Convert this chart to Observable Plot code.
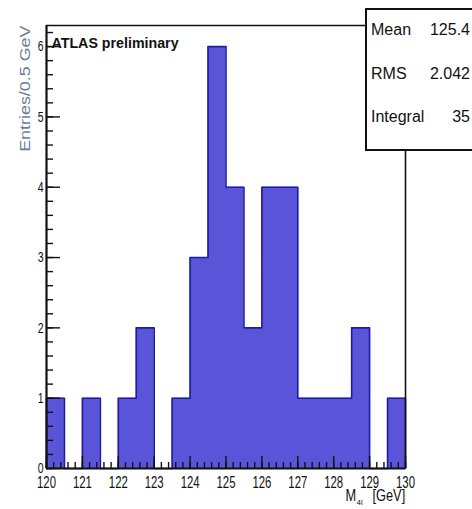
<!DOCTYPE html>
<html>
<head>
<meta charset="utf-8">
<script src="https://cdn.jsdelivr.net/npm/d3@7"></script>
<script src="https://cdn.jsdelivr.net/npm/@observablehq/plot@0.6"></script>
<style>
  body { margin: 0; background: white; }
  #wrap { position: relative; width: 472px; height: 509px; overflow: hidden; font-family: "Liberation Sans", Arial, sans-serif; }
  #stats { position: absolute; left: 365px; top: 8px; width: 115px; height: 143px; border: 2px solid #111; background: white; box-sizing: border-box; font-size: 16px; color: #111; }
  #stats .row { position: absolute; left: 4px; right: 8px; height: 20px; line-height: 20px; }
  #stats .row span.v { position: absolute; right: 0; }
</style>
</head>
<body>
<div id="wrap"></div>
<script>
// Bin edges (0.5 GeV bins) and counts
const binStarts = [120,120.5,121,121.5,122,122.5,123,123.5,124,124.5,125,125.5,126,126.5,127,127.5,128,128.5,129,129.5];
const counts    = [1,0,1,0,1,2,0,1,3,6,4,2,4,4,1,1,1,2,0,1];
const binWidth = 0.5;
const xDomain = [120, 130];
const yDomain = [0, 6.3];
const xMajor = [120,121,122,123,124,125,126,127,128,129,130];
const yMajor = [0,1,2,3,4,5,6];
const statLabels = ["Mean", "RMS", "Integral"];
const statValues = ["125.4", "2.042", "35"];
const title = "ATLAS preliminary";
const yLabel = "Entries/0.5 GeV";

const last = binStarts.length - 1;
const outline = [{x: binStarts[0], y: 0}, ...binStarts.map((s, i) => ({x: s, y: counts[i]})),
  {x: binStarts[last] + binWidth, y: counts[last]},
  {x: binStarts[last] + binWidth, y: 0}];
const xMinor = d3.range(Math.round((xDomain[1]-xDomain[0])/0.2)+1).map(i => +(xDomain[0] + i*0.2).toFixed(1));
const yMinor = d3.range(Math.floor(yDomain[1]/0.2)+1).map(i => +(i*0.2).toFixed(1));

const W = 472, H = 509, mL = 46, mR = 67, mT = 25, mB = 41;
const innerW = W - mL - mR, innerH = H - mT - mB;

const fontFam = '"Liberation Sans", Arial, sans-serif';

const chart = Plot.plot({
  width: W, height: H,
  marginLeft: mL, marginRight: mR, marginTop: mT, marginBottom: mB,
  x: {domain: xDomain, axis: null},
  y: {domain: yDomain, axis: null},
  style: {fontFamily: fontFam, background: "white", color: "#111"},
  marks: [
    Plot.areaY(outline, {x: "x", y: "y", curve: "step-after", fill: "#5a55d8"}),
    Plot.line(outline, {x: "x", y: "y", curve: "step-after", stroke: "#1c1ca8", strokeWidth: 1.6}),
    // x ticks (inward)
    Plot.ruleX(xMinor, {x: d => d, insetTop: innerH - 6, stroke: "#111", strokeWidth: 1.4}),
    Plot.ruleX(xMajor, {x: d => d, insetTop: innerH - 12, stroke: "#111", strokeWidth: 1.4}),
    // y ticks (inward)
    Plot.ruleY(yMinor, {y: d => d, insetRight: innerW - 7, stroke: "#111", strokeWidth: 1.4}),
    Plot.ruleY(yMajor, {y: d => d, insetRight: innerW - 14, stroke: "#111", strokeWidth: 1.4}),
    // frame lines
    Plot.ruleY([yDomain[1]], {stroke: "#111", strokeWidth: 1.6}),
    Plot.ruleX([xDomain[1]], {stroke: "#111", strokeWidth: 1.6}),
    Plot.ruleX([xDomain[0]], {stroke: "#111", strokeWidth: 2.2}),
    Plot.ruleY([yDomain[0]], {stroke: "#111", strokeWidth: 2.2}),
    // tick labels
    Plot.text(xMajor, {x: d => d, frameAnchor: "bottom", dy: 8, lineAnchor: "top", text: d => String(d), fontSize: 16, fill: "#111"}),
    Plot.text(yMajor, {y: d => d, frameAnchor: "left", dx: -3, textAnchor: "end", text: d => String(d), fontSize: 15, fill: "#111"}),
    Plot.text([title], {frameAnchor: "top-left", dx: 5, dy: 12, text: d => d, fontSize: 15, fontWeight: "bold", textAnchor: "start", lineAnchor: "top", fill: "#111"}),
    Plot.text([yLabel], {frameAnchor: "top-left", dx: -26, dy: 0, rotate: -90, text: d => d, fontSize: 14, textAnchor: "end", fill: "#6a7d9c"}),
    Plot.text(["M"], {frameAnchor: "bottom-right", dx: -60, dy: 32, text: d => d, fontSize: 16, textAnchor: "start", fill: "#111"}),
    Plot.text(["4l"], {frameAnchor: "bottom-right", dx: -49, dy: 36, text: d => d, fontSize: 8, textAnchor: "start", fill: "#111"}),
    Plot.text(["[GeV]"], {frameAnchor: "bottom-right", dx: -33, dy: 32, text: d => d, fontSize: 16, textAnchor: "start", fill: "#111"})
  ]
});

const wrap = document.getElementById("wrap");
wrap.appendChild(chart);

// Narrow (condensed) text, like the original's font: horizontal scale per text
const xLabelSet = new Set(xMajor.map(String));
const yLabelSet = new Set(yMajor.map(String));
chart.querySelectorAll("text").forEach(t => {
  const s = t.textContent;
  let f = null;
  if (s === title) f = 0.95;
  else if (s === yLabel) f = 1.28;
  else if (s === "M" || s === "[GeV]") f = 0.8;
  else if (xLabelSet.has(s) && s.length === 3) f = 0.71;
  else if (yLabelSet.has(s)) f = 0.7;
  if (f != null) {
    const tr = t.getAttribute("transform") || "";
    t.setAttribute("transform", tr + ` scale(${f},1)`);
  }
});

const box = document.createElement("div");
box.id = "stats";
statLabels.forEach((lab, i) => {
  const r = document.createElement("div");
  r.className = "row";
  r.style.top = (10 + i * 43.5) + "px";
  const a = document.createElement("span"); a.textContent = lab;
  const b = document.createElement("span"); b.className = "v"; b.textContent = statValues[i];
  r.appendChild(a); r.appendChild(b);
  box.appendChild(r);
});
wrap.appendChild(box);
</script>
</body>
</html>
